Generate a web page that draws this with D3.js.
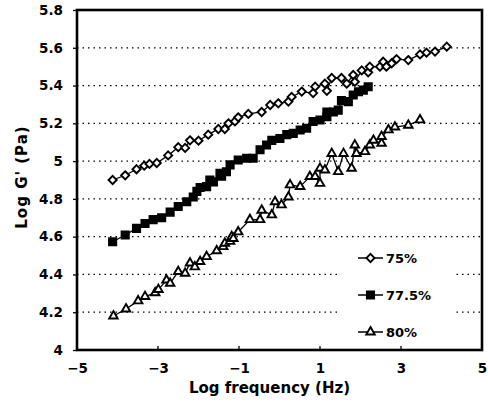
<!DOCTYPE html>
<html><head><meta charset="utf-8">
<script src="https://cdn.jsdelivr.net/npm/d3@7"></script>
<style>body{margin:0;background:#fff}svg{display:block}</style>
</head><body>
<svg id="c" width="488" height="411"></svg>
<script>
const xTicks = [-5, -3, -1, 1, 3, 5];
const yTicks = [4, 4.2, 4.4, 4.6, 4.8, 5, 5.2, 5.4, 5.6, 5.8];
const seriesNames = ["75%", "77.5%", "80%"];
const s75 = [[-4.12,4.90],[-3.81,4.925],[-3.53,4.957],[-3.34,4.976],[-3.21,4.985],[-3.03,4.99],[-2.75,5.03],[-2.50,5.074],[-2.33,5.07],[-2.21,5.11],[-2.0,5.108],[-1.76,5.14],[-1.51,5.17],[-1.35,5.17],[-1.26,5.20],[-1.1,5.21],[-1.02,5.232],[-0.77,5.25],[-0.44,5.26],[-0.23,5.297],[-0.03,5.306],[0.22,5.315],[0.30,5.34],[0.55,5.368],[0.83,5.36],[0.88,5.394],[1.12,5.41],[1.17,5.372],[1.29,5.44],[1.53,5.44],[1.66,5.41],[1.82,5.456],[1.86,5.42],[2.03,5.48],[2.19,5.47],[2.23,5.50],[2.48,5.50],[2.56,5.526],[2.64,5.50],[2.77,5.518],[2.89,5.54],[3.18,5.535],[3.47,5.565],[3.63,5.574],[3.84,5.58],[4.13,5.606]];
const s775 = [[-4.12,4.573],[-3.81,4.609],[-3.53,4.644],[-3.32,4.67],[-3.12,4.69],[-2.91,4.70],[-2.7,4.73],[-2.5,4.76],[-2.29,4.785],[-2.13,4.81],[-2.04,4.84],[-1.96,4.86],[-1.8,4.865],[-1.72,4.9],[-1.63,4.89],[-1.47,4.935],[-1.43,4.92],[-1.31,4.944],[-1.22,4.98],[-1.02,5.006],[-0.81,5.015],[-0.65,5.015],[-0.48,5.06],[-0.32,5.085],[-0.19,5.11],[0.01,5.12],[0.18,5.14],[0.34,5.147],[0.51,5.165],[0.67,5.174],[0.83,5.21],[1.0,5.218],[1.17,5.235],[1.17,5.26],[1.33,5.26],[1.45,5.27],[1.53,5.32],[1.70,5.315],[1.82,5.35],[1.95,5.367],[2.07,5.376],[2.19,5.394]];
const s80 = [[-4.1,4.18],[-3.79,4.217],[-3.49,4.26],[-3.32,4.283],[-3.07,4.303],[-2.99,4.32],[-2.79,4.37],[-2.7,4.353],[-2.5,4.415],[-2.33,4.406],[-2.21,4.46],[-2.09,4.44],[-1.96,4.468],[-1.8,4.494],[-1.55,4.525],[-1.39,4.547],[-1.35,4.565],[-1.22,4.575],[-1.18,4.60],[-1.14,4.59],[-1.02,4.625],[-0.73,4.69],[-0.48,4.69],[-0.44,4.74],[-0.19,4.715],[-0.11,4.785],[0.05,4.768],[0.22,4.81],[0.26,4.874],[0.51,4.865],[0.75,4.918],[0.88,4.918],[1.0,4.882],[1.0,4.962],[1.12,4.953],[1.29,5.04],[1.45,4.944],[1.58,5.04],[1.78,4.962],[1.86,5.085],[1.9,5.04],[2.11,5.05],[2.23,5.085],[2.32,5.11],[2.52,5.094],[2.52,5.13],[2.69,5.165],[2.85,5.18],[3.18,5.19],[3.47,5.218]];

const svg = d3.select("#c");
const m = {l:77, r:6, t:10, b:61};
const W = 488, H = 411;
const x = d3.scaleLinear().domain([-5,5]).range([m.l, W-m.r]);
const y = d3.scaleLinear().domain([4,5.8]).range([H-m.b, m.t]);
const font = "'DejaVu Sans', sans-serif";

// grid
svg.append("g").selectAll("line").data(yTicks.filter(v=>v>4 && v<5.8)).join("line")
  .attr("x1", x(-5)).attr("x2", x(5)).attr("y1", d=>y(d)).attr("y2", d=>y(d))
  .attr("stroke", "#000").attr("stroke-width", 1.3).attr("stroke-dasharray", "1.5,4");

// legend background
svg.append("rect").attr("x", 340).attr("y", 244).attr("width", 115).attr("height", 102).attr("fill", "#fff");

// axes
const xa = svg.append("g").attr("transform", `translate(0,${y(4)})`)
  .call(d3.axisBottom(x).tickValues(xTicks).tickSize(0).tickPadding(13).tickFormat(d=>d<0?"\u2212"+Math.abs(d):d));
xa.select(".domain").remove();
xa.selectAll("text").attr("font-family", font).attr("font-size", 13.5).attr("font-weight", "bold");
svg.append("g").selectAll("line").data(xTicks).join("line")
  .attr("x1", d=>x(d)).attr("x2", d=>x(d)).attr("y1", y(4)).attr("y2", y(4)-4)
  .attr("stroke","#000").attr("stroke-width",1.3);

const ya = svg.append("g").attr("transform", `translate(${x(-5)},0)`)
  .call(d3.axisLeft(y).tickValues(yTicks).tickSize(4).tickPadding(10).tickFormat(d=>d3.format("")(+d.toFixed(1))));
ya.select(".domain").remove();
ya.selectAll("line").attr("stroke-width", 1.3);
ya.selectAll("text").attr("font-family", font).attr("font-size", 13.5).attr("font-weight", "bold");

svg.append("rect").attr("x", x(-5)).attr("y", y(5.8)).attr("width", x(5)-x(-5)).attr("height", y(4)-y(5.8))
  .attr("fill","none").attr("stroke","#000").attr("stroke-width",2.6);

// titles
svg.append("text").attr("x", (x(-5)+x(5))/2 - 10).attr("y", 393).attr("text-anchor","middle")
  .attr("font-family", font).attr("font-size", 15).attr("font-weight","bold").text("Log frequency (Hz)");
svg.append("text").attr("transform", `translate(27,177) rotate(-90)`).attr("text-anchor","middle")
  .attr("font-family", font).attr("font-size", 15).attr("font-weight","bold").attr("letter-spacing", 1).text("Log G' (Pa)");

// series
const line = d3.line().x(d=>x(d[0])).y(d=>y(d[1]));
const diamond = d3.symbol().type(d3.symbolDiamond2).size(42);
const square = d3.symbol().type(d3.symbolSquare).size(52);
const tri = d3.symbol().type(d3.symbolTriangle2).size(52);
const series = [
  {data:s75, sym:diamond, fill:"#fff"},
  {data:s775, sym:square, fill:"#000"},
  {data:s80, sym:tri, fill:"#fff"}
];
series.forEach(s=>{
  svg.append("path").datum(s.data).attr("d", line).attr("fill","none").attr("stroke","#000").attr("stroke-width",1.3);
  svg.append("g").selectAll("path").data(s.data).join("path")
    .attr("transform", d=>`translate(${x(d[0])},${y(d[1])})`)
    .attr("d", s.sym()).attr("fill", s.fill).attr("stroke","#000").attr("stroke-width",1.9);
});

// legend items
const ly = [258, 295, 332];
series.forEach((s,i)=>{
  const g = svg.append("g").attr("transform", `translate(0,${ly[i]})`);
  g.append("line").attr("x1",358).attr("x2",383).attr("y1",0).attr("y2",0).attr("stroke","#000").attr("stroke-width",1.5);
  g.append("path").attr("transform","translate(370.5,0)").attr("d", s.sym()).attr("fill", s.fill).attr("stroke","#000").attr("stroke-width",1.9);
  g.append("text").attr("x",386).attr("y",5).attr("font-family",font).attr("font-size",13).attr("font-weight","bold").text(seriesNames[i]);
});
</script>
</body></html>
